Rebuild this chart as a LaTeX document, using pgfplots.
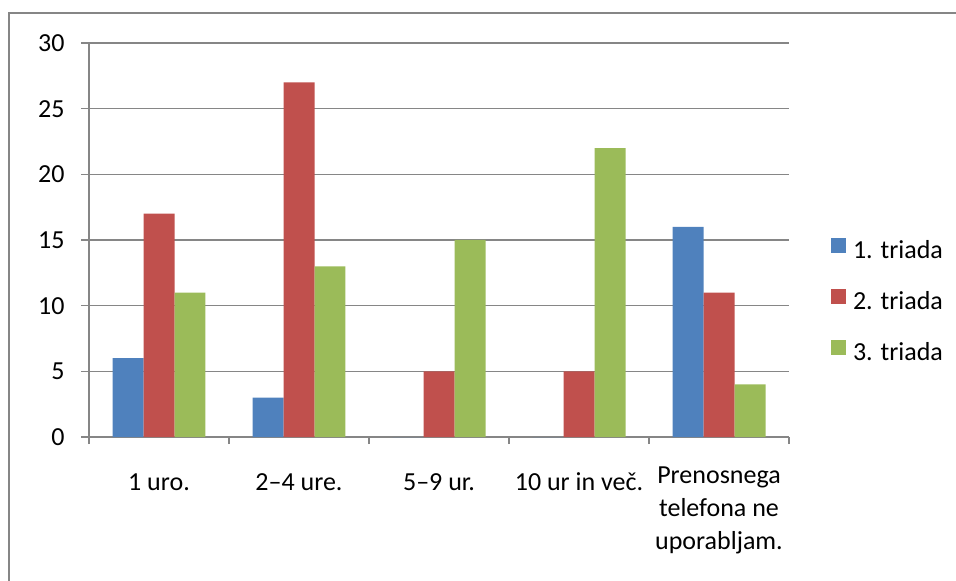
\documentclass[border=0pt]{standalone}
\usepackage{fontspec}
\setmainfont{Carlito}
\usepackage{pgfplots}
\pgfplotsset{compat=1.18}
\definecolor{cblue}{HTML}{4F81BD}
\definecolor{cred}{HTML}{C0504D}
\definecolor{cgreen}{HTML}{9BBB59}
\definecolor{axgray}{HTML}{868686}
\pgfplotsset{sq legend/.style={legend image code/.code={\fill[##1] (0pt,0pt) rectangle (7.5pt,7.5pt);}}}
\newcommand{\cf}{\fontsize{13}{16.5}\selectfont}
\begin{document}
\begin{tikzpicture}
\useasboundingbox (0,0) rectangle (478pt,-290.5pt);
\begin{scope}
\clip (0,0) rectangle (478pt,-290.5pt);
\draw[axgray, line width=1pt] (4.5pt,-6.5pt) rectangle (500pt,-310pt);
\end{scope}
\begin{axis}[
  at={(44.5pt,-218.5pt)}, anchor=south west,
  scale only axis, width=350pt, height=197pt,
  ybar=0pt, bar width=0.2214,
  xmin=-0.5, xmax=4.5, ymin=0, ymax=30,
  ytick={0,5,...,30},
  xtick={0,...,4},
  xticklabels={1 uro.,2–4 ure.,5–9 ur.,10 ur in več.,Prenosnega\\telefona ne\\uporabljam.},
  minor xtick={-0.5,0.5,...,4.5},
  axis lines*=left,
  axis line style={axgray, line width=0.6pt},
  ymajorgrids, major grid style={axgray, line width=0.6pt},
  tick align=outside,
  major tick length=4pt, minor tick length=3.5pt,
  every tick/.style={axgray, line width=0.6pt},
  major x tick style={draw=none},
  /pgf/number format/assume math mode=true,
  tick label style={font=\cf, text=black},
  xticklabel style={align=center, anchor=north, inner sep=0pt, yshift=-10.8pt, execute at begin node=\strut},
  yticklabel style={anchor=east, inner sep=0pt, xshift=-8pt},
  legend style={at={(1.06,0.3426)}, anchor=west, draw=none, fill=none, inner sep=0pt, outer sep=0pt,
    row sep=12pt, column sep=3.5pt,
    nodes={inner sep=0pt, text height=9pt, text depth=3pt, font=\cf}},
  legend cell align=left,
]
\addplot[fill=cblue, draw=none, sq legend] coordinates {(0,6) (1,3) (2,0) (3,0) (4,16)};
\addplot[fill=cred, draw=none, sq legend] coordinates {(0,17) (1,27) (2,5) (3,5) (4,11)};
\addplot[fill=cgreen, draw=none, sq legend] coordinates {(0,11) (1,13) (2,15) (3,22) (4,4)};
\legend{1. triada,2. triada,3. triada}
\end{axis}
\end{tikzpicture}
\end{document}
